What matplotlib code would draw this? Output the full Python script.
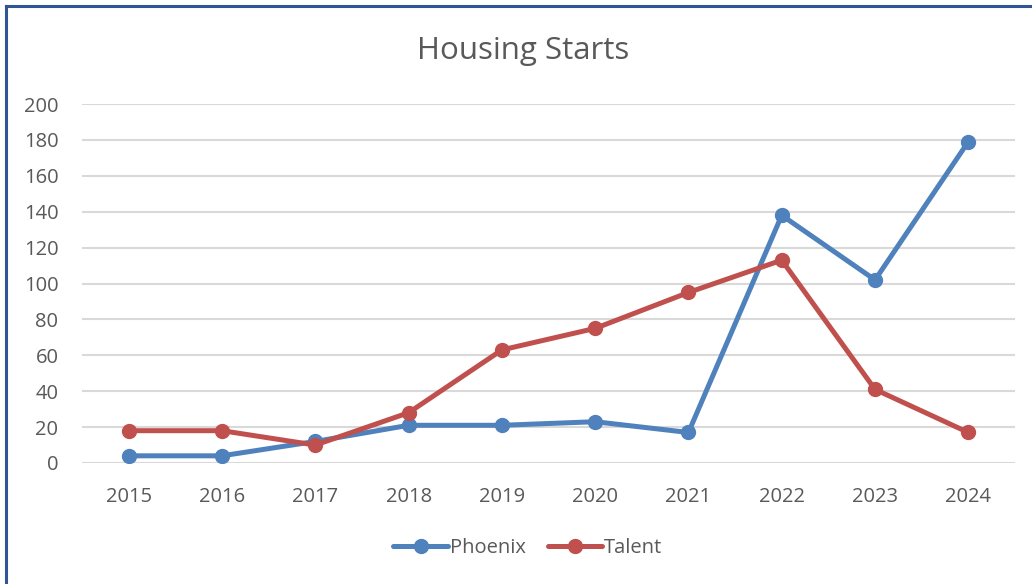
import matplotlib.pyplot as plt
from matplotlib.lines import Line2D

years = ['2015', '2016', '2017', '2018', '2019', '2020', '2021', '2022', '2023', '2024']
phoenix = [4, 4, 12, 21, 21, 23, 17, 138, 102, 179]
talent = [18, 18, 10, 28, 63, 75, 95, 113, 41, 17]

plt.rcParams['font.family'] = ['Open Sans', 'DejaVu Sans']
txt = '#595959'

fig = plt.figure(figsize=(10.32, 5.84), dpi=100)
ax = fig.add_axes([0.0795, 0.2072, 0.904, 0.6147])

x = range(len(years))
ax.plot(x, phoenix, color='#4F81BD', lw=3.6, marker='o', ms=10, label='Phoenix',
        solid_capstyle='round')
ax.plot(x, talent, color='#C0504D', lw=3.6, marker='o', ms=10, label='Talent',
        solid_capstyle='round')

ax.set_xlim(-0.5, len(years) - 0.5)
ax.set_ylim(0, 200)
ax.set_yticks(range(0, 201, 20))
ax.set_xticks(list(x))
ax.set_xticklabels(years)
ax.grid(axis='y', color='#D9D9D9', lw=1.5)
ax.set_axisbelow(True)
for s in ax.spines.values():
    s.set_visible(False)
ax.tick_params(length=0, labelsize=14.5, labelcolor=txt)
ax.tick_params(axis='x', pad=17)
ax.tick_params(axis='y', pad=17)

fig.text(0.507, 0.913, 'Housing Starts', ha='center', va='center', fontsize=22.5, color=txt)

leg = ax.legend(loc='center', bbox_to_anchor=(0.478, -0.238), ncol=2, frameon=False,
                fontsize=14.5, handlelength=2.7, handletextpad=0.1, columnspacing=1.1)
for t in leg.get_texts():
    t.set_color(txt)

# chart border (left and top edges visible)
bc = '#2F5597'
fig.add_artist(Line2D([6 / 1032, 6 / 1032], [0, 1 - 6 / 584], transform=fig.transFigure,
                      color=bc, lw=2.2))
fig.add_artist(Line2D([6 / 1032, 1], [1 - 6 / 584, 1 - 6 / 584], transform=fig.transFigure,
                      color=bc, lw=2.2))

fig.savefig('out.png', dpi=100)
